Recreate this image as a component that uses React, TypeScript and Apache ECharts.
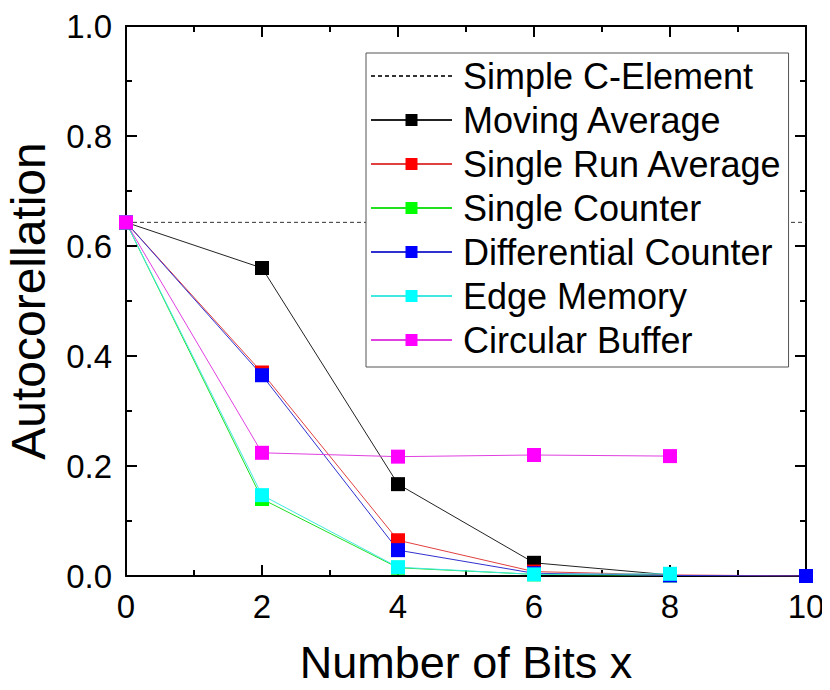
import React, { useEffect, useRef } from "react";
import * as echarts from "echarts";

const bitsX = [0, 2, 4, 6, 8, 10];
const cElementX = [0, 10];
const cElementY = [0.643, 0.643];
const movingAverage = [0.643, 0.56, 0.167, 0.024, 0.002];
const singleRunAverage = [0.643, 0.37, 0.065, 0.008, 0.002, 0.0];
const singleCounter = [0.643, 0.14, 0.015, 0.003, 0.001];
const differentialCounter = [0.643, 0.365, 0.047, 0.005, 0.001, 0.0];
const edgeMemory = [0.643, 0.147, 0.016, 0.003, 0.004];
const circularBuffer = [0.643, 0.224, 0.217, 0.22, 0.218];
const yTicks = [0, 0.2, 0.4, 0.6, 0.8, 1.0];
const xTicks = [0, 2, 4, 6, 8, 10];

const FONT = "'Liberation Sans', Arial, sans-serif";

const pairs = (xs: number[], ys: number[]) => ys.map((y, i) => [xs[i], y]);

export default function App() {
  const ref = useRef<HTMLDivElement>(null);
  useEffect(() => {
    if (!ref.current) return;
    const chart = echarts.init(ref.current, undefined, { renderer: "svg" });
    const mk = (name: string, data: number[], color: string, lineColor?: string) => ({
      name,
      type: "line",
      data: pairs(bitsX, data),
      symbol: "rect",
      symbolSize: 14,
      itemStyle: { color },
      lineStyle: { color: lineColor || color, width: 1 },
      z: 3,
    });
    const axisCommon = {
      axisLine: { show: true, onZero: false, lineStyle: { color: "#000", width: 2 } },
      axisTick: { show: true, inside: true, length: 11, lineStyle: { color: "#000", width: 2 } },
      minorTick: { show: true, splitNumber: 2, length: 6, lineStyle: { color: "#000", width: 2 } },
      splitLine: { show: false },
    };
    chart.setOption({
      animation: false,
      grid: {
        left: 126,
        top: 26,
        width: 680,
        height: 550,
        containLabel: false,
        outerBoundsMode: "none",
      },
      xAxis: [
        {
          type: "value",
          min: xTicks[0],
          max: xTicks[xTicks.length - 1],
          interval: 2,
          ...axisCommon,
          axisLabel: { show: true, fontSize: 33, fontFamily: FONT, color: "#000", margin: 14 },
          name: "Number of Bits x",
          nameLocation: "middle",
          nameGap: 66,
          nameTextStyle: { fontSize: 45, fontFamily: FONT, color: "#000", lineHeight: 40 },
        },
        {
          type: "value",
          position: "top",
          min: xTicks[0],
          max: xTicks[xTicks.length - 1],
          interval: 2,
          ...axisCommon,
          axisLabel: { show: false },
        },
      ],
      yAxis: [
        {
          type: "value",
          min: yTicks[0],
          max: yTicks[yTicks.length - 1],
          interval: 0.2,
          ...axisCommon,
          axisLabel: {
            show: true,
            fontSize: 33,
            fontFamily: FONT,
            color: "#000",
            margin: 14,
            formatter: (v: number) => v.toFixed(1),
          },
          name: "Autocorellation",
          nameLocation: "middle",
          nameGap: 74,
          nameTextStyle: { fontSize: 48, fontFamily: FONT, color: "#000", lineHeight: 48 },
        },
        {
          type: "value",
          position: "right",
          min: yTicks[0],
          max: yTicks[yTicks.length - 1],
          interval: 0.2,
          ...axisCommon,
          axisLabel: { show: false },
        },
      ],
      legend: {
        orient: "vertical",
        left: 366,
        top: 53,
        itemWidth: 81,
        itemHeight: 15,
        itemGap: 8,
        padding: [5, 6, 9, 4],
        backgroundColor: "#fff",
        borderColor: "#555",
        borderWidth: 1,
        textStyle: { fontSize: 36, fontFamily: FONT, color: "#000", lineHeight: 36, padding: [0, 0, 0, 6] },
        data: [
          { name: "Simple C-Element", itemStyle: { color: "transparent", borderWidth: 0, opacity: 0 } },
          "Moving Average",
          "Single Run Average",
          "Single Counter",
          "Differential Counter",
          "Edge Memory",
          "Circular Buffer",
        ],
      },
      series: [
        {
          name: "Simple C-Element",
          type: "line",
          data: pairs(cElementX, cElementY),
          symbol: "none",
          itemStyle: { color: "#333" },
          lineStyle: { color: "#333", width: 1, type: [4, 3] },
          z: 2,
        },
        mk("Moving Average", movingAverage, "#000000", "#222222"),
        mk("Single Run Average", singleRunAverage, "#ff0000", "#e04040"),
        mk("Single Counter", singleCounter, "#00ff00", "#20e020"),
        mk("Differential Counter", differentialCounter, "#0000ff", "#3030d0"),
        mk("Edge Memory", edgeMemory, "#00ffff", "#40e8e0"),
        mk("Circular Buffer", circularBuffer, "#ff00ff", "#e040e0"),
      ],
    });
    return () => chart.dispose();
  }, []);
  return <div ref={ref} style={{ width: 830, height: 690, marginLeft: -8, marginTop: -8 }} />;
}
